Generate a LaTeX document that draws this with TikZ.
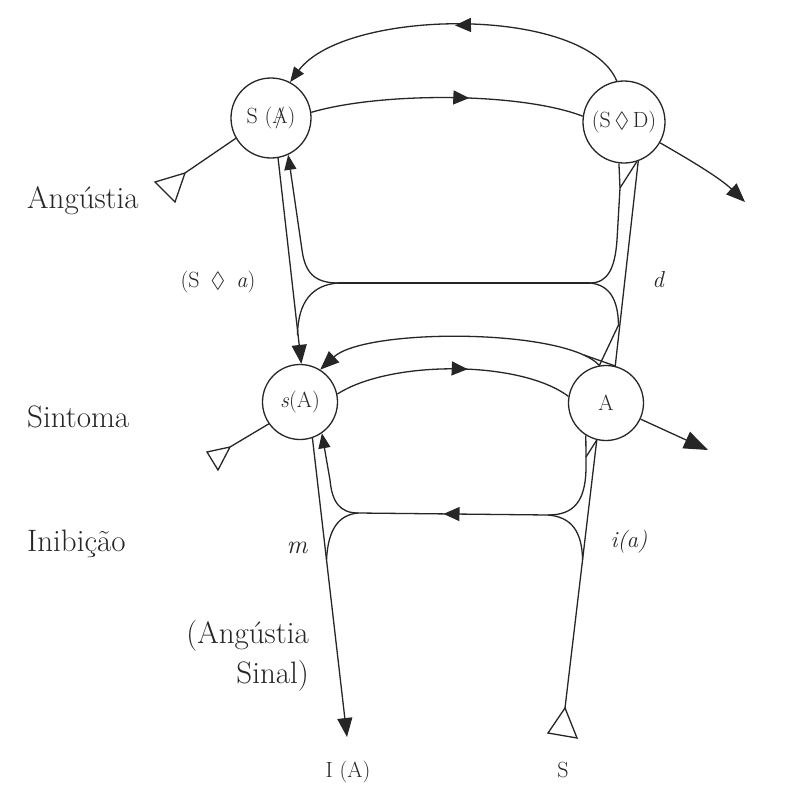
\documentclass[tikz,border=0pt]{standalone}
\usepackage{amssymb}
\usepackage{fontspec}
\usetikzlibrary{arrows.meta,decorations.markings}
\newcommand{\barredA}{\ooalign{A\cr\hidewidth/\hidewidth\cr}}
\begin{document}
\begin{tikzpicture}[x=1pt,y=-1pt,
  ln/.style={line width=1.3pt, draw=black!85},
  circ/.style={circle, draw=black!85, line width=1.3pt, inner sep=0pt, minimum size=#1, text=black!85, font=\fontsize{22}{24}\selectfont},
  big/.style={font=\fontsize{31}{34}\selectfont, text=black!85, inner sep=0pt},
  lab/.style={font=\fontsize{22}{24}\selectfont, text=black!85, inner sep=0pt},
  ilab/.style={font=\fontsize{23}{25}\selectfont\itshape, text=black!85, inner sep=0pt},
  midarr/.style={postaction={decorate}, decoration={markings, mark=at position #1 with {\arrow{Triangle[length=16pt,width=14pt]}}}},
  arrS/.style={-{Triangle[length=15pt,width=12pt]}},
  arrM/.style={-{Triangle[length=19pt,width=15pt]}},
  arrL/.style={-{Triangle[length=24pt,width=18pt]}},
  tri/.style={line width=1.3pt, draw=black!85, fill=white, line join=miter}
]
\fill[white] (0,0) rectangle (811,798);
\useasboundingbox (0,0) rectangle (811,798);

% nodes
\node[circ=80pt] (SA) at (271,118) {S (\barredA)};
\node[circ=82pt] (SD) at (624,122) {(S\,$\Diamond$\,D)};
\node[circ=75pt] (sA) at (300,402) {\textit{s}(A)};
\node[circ=75pt] (A) at (606,403) {A};

% coordinates
\coordinate (T1a) at (155,182); \coordinate (T1b) at (185,173); \coordinate (T1c) at (175,202);
\coordinate (T2a) at (207,452); \coordinate (T2b) at (230,447); \coordinate (T2c) at (218,470);
\coordinate (T3a) at (565,708); \coordinate (T3b) at (548,733); \coordinate (T3c) at (577,738);
\coordinate (L1) at (338,283); \coordinate (R1) at (590,283);
\coordinate (L2) at (358,513); \coordinate (R2) at (548,515);
\coordinate (Q1) at (620,188); \coordinate (Q2) at (584,355); \coordinate (Q3) at (586,457);
\coordinate (IA) at (347,737);
\coordinate (Aout) at (708,450);
\coordinate (SDout) at (745,202);

% upper arcs
\draw[ln, midarr=0.5, arrS] (SD.100) .. controls (585,5) and (345,8) .. (SA.62);
\draw[ln, midarr=0.58] (SA.8) .. controls (380,92) and (520,92) .. (SD.172);

% tails with open triangles
\draw[ln] (SA.210) -- (T1b);
\draw[tri] (T1a) -- (T1b) -- (T1c) -- cycle;
\draw[ln] (sA.215) -- (T2b);
\draw[tri] (T2a) -- (T2b) -- (T2c) -- cycle;

% upper band, left
\draw[ln, arrM] (SA.-80) -- (sA.88);
\draw[ln, arrS] (L1) .. controls (314,283) and (305,272) .. (302,250) -- (SA.-65);
\draw[ln] (L1) .. controls (312,285) and (298,302) .. (297.5,335);
\draw[ln] (L1) -- (R1);

% upper band, right
\draw[ln] (R1) .. controls (608,283) and (615,268) .. (617,240) -- (Q1) -- (SD.-97);
\draw[ln] (Q1) -- (SD.-72);
\draw[ln] (SD.-70) -- (A.76);
\draw[ln] (R1) .. controls (610,285) and (618,300) .. (618.5,325) -- (A.100);

% middle arcs
\draw[ln, arrM] (A.100) .. controls (565,328) and (365,328) .. (sA.58);
\draw[ln] (Q2) -- (A.76);
\draw[ln, midarr=0.56] (sA.12) .. controls (390,360) and (520,360) .. (A.170);

% right outputs
\draw[ln, arrL] (A.-25) -- (Aout);
\draw[ln, arrM] (SD.-30) .. controls (690,160) and (720,178) .. (SDout);

% lower band
\draw[ln, arrM] (sA.-71) -- (IA);
\draw[ln, arrS] (L2) .. controls (340,513) and (332,502) .. (330,480) -- (sA.-55);
\draw[ln] (L2) .. controls (338,515) and (328,530) .. (326.5,560);
\draw[ln, midarr=0.55] (R2) -- (L2);
\draw[ln] (R2) .. controls (575,515) and (585,500) .. (586,470) -- (Q3) -- (A.-122);
\draw[ln] (Q3) -- (A.-104);
\draw[ln] (R2) .. controls (572,517) and (582,532) .. (582.6,560);
\draw[ln] (A.-104) -- (T3a);
\draw[tri] (T3a) -- (T3b) -- (T3c) -- cycle;

% labels
\node[big, anchor=base west] (lang) at (27,208) {Angústia};
\node[big, anchor=base west] (lsin) at (27,427) {Sintoma};
\node[big, anchor=base west] (linb) at (27,551) {Inibição};
\node[big, anchor=base east] (las1) at (309,643) {(Angústia};
\node[big, anchor=base east] (las2) at (309,683) {Sinal)};
\node[lab, anchor=base] (lsa) at (218,287) {(S\enspace$\Diamond$\enspace\textit{a})};
\node[ilab, anchor=base] (ld) at (658,287) {d};
\node[ilab, anchor=base, font=\fontsize{26}{28}\selectfont\itshape] (lm) at (297,553) {m};
\node[ilab, anchor=base] (lia) at (629,547) {i(a)};
\node[lab, anchor=base] (lIA) at (348,777) {I (A)};
\node[lab, anchor=base] (lS) at (563,777) {S};
\end{tikzpicture}
\end{document}
